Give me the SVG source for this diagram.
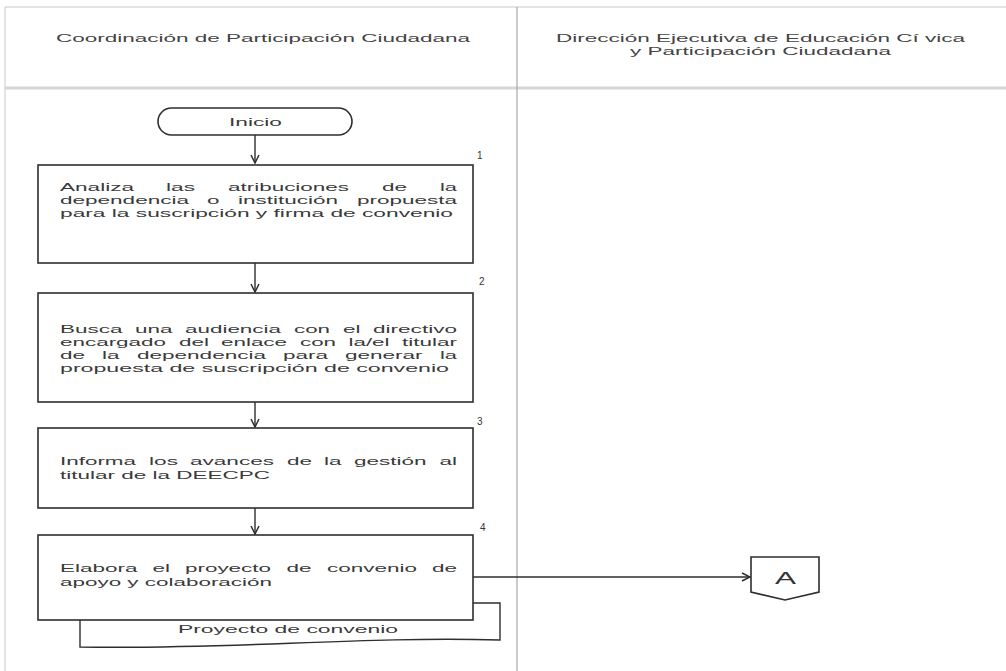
<svg xmlns="http://www.w3.org/2000/svg" width="1006" height="671" viewBox="0 0 1006 671">
<style>
.lane{fill:none;stroke:#c8c8c8;stroke-width:1}
.div{fill:none;stroke:#a8a8a8;stroke-width:1.2}
.hb{fill:none;stroke:#d6d6d6;stroke-width:3}
.box{fill:#fff;stroke:#2e2e2e;stroke-width:1.6}
.ln{fill:none;stroke:#2e2e2e;stroke-width:1.4}
text{font-family:"Liberation Sans",Arial,sans-serif;fill:#3a3a3a}
.h{font-size:11px;fill:#444}
.t{font-size:11.5px}
.n{font-size:10px;fill:#333}
.a{font-size:17px;fill:#333}
</style>
<defs>
<marker id="arr" viewBox="0 0 10 10" refX="9" refY="5" markerWidth="10" markerHeight="10" markerUnits="userSpaceOnUse" orient="auto">
<path d="M1,1 L9,5 L1,9" fill="none" stroke="#2e2e2e" stroke-width="1.5"/>
</marker>
</defs>
<rect x="0" y="0" width="1006" height="671" fill="#fff"/>
<g id="lanes">
<line class="lane" x1="5" y1="7" x2="1006" y2="7"/>
<line class="lane" x1="5" y1="7" x2="5" y2="671"/>
<line class="hb" x1="5" y1="88" x2="1006" y2="88"/>
<line class="div" x1="517" y1="7" x2="517" y2="671"/>
<text class="h" x="56" y="42" textLength="414" lengthAdjust="spacingAndGlyphs">Coordinación de Participación Ciudadana</text>
<text class="h" x="556" y="42" textLength="409" lengthAdjust="spacingAndGlyphs">Dirección Ejecutiva de Educación Cí vica</text>
<text class="h" x="630" y="55" textLength="261" lengthAdjust="spacingAndGlyphs">y Participación Ciudadana</text>
</g>
<g id="connectors">
<line class="ln" x1="255" y1="135" x2="255" y2="163" marker-end="url(#arr)"/>
<line class="ln" x1="255" y1="263" x2="255" y2="292" marker-end="url(#arr)"/>
<line class="ln" x1="255" y1="402" x2="255" y2="427" marker-end="url(#arr)"/>
<line class="ln" x1="255" y1="508" x2="255" y2="534" marker-end="url(#arr)"/>
<line class="ln" x1="473" y1="577" x2="750" y2="577" marker-end="url(#arr)"/>
</g>
<g id="inicio">
<rect class="box" x="158" y="108" width="194" height="27" rx="13.5" ry="13.5"/>
<text class="t" x="229" y="126" textLength="53" lengthAdjust="spacingAndGlyphs">Inicio</text>
</g>
<g id="paso1">
<rect class="box" x="38" y="165" width="435" height="98"/>
<text class="n" x="477" y="159">1</text>
<text class="t" x="60" y="191" textLength="74" lengthAdjust="spacingAndGlyphs">Analiza</text>
<text class="t" x="166" y="191" textLength="29" lengthAdjust="spacingAndGlyphs">las</text>
<text class="t" x="228" y="191" textLength="121" lengthAdjust="spacingAndGlyphs">atribuciones</text>
<text class="t" x="382" y="191" textLength="25" lengthAdjust="spacingAndGlyphs">de</text>
<text class="t" x="440" y="191" textLength="17" lengthAdjust="spacingAndGlyphs">la</text>
<text class="t" x="60" y="204" textLength="129" lengthAdjust="spacingAndGlyphs">dependencia</text>
<text class="t" x="207" y="204" textLength="12.5" lengthAdjust="spacingAndGlyphs">o</text>
<text class="t" x="238" y="204" textLength="100" lengthAdjust="spacingAndGlyphs">institución</text>
<text class="t" x="357" y="204" textLength="100" lengthAdjust="spacingAndGlyphs">propuesta</text>
<text class="t" x="60" y="217" textLength="393" lengthAdjust="spacingAndGlyphs">para la suscripción y firma de convenio</text>
</g>
<g id="paso2">
<rect class="box" x="38" y="293" width="435" height="109"/>
<text class="n" x="479" y="285">2</text>
<text class="t" x="60" y="333" textLength="62.5" lengthAdjust="spacingAndGlyphs">Busca</text>
<text class="t" x="135" y="333" textLength="37.5" lengthAdjust="spacingAndGlyphs">una</text>
<text class="t" x="185" y="333" textLength="96" lengthAdjust="spacingAndGlyphs">audiencia</text>
<text class="t" x="294" y="333" textLength="36" lengthAdjust="spacingAndGlyphs">con</text>
<text class="t" x="343" y="333" textLength="17.5" lengthAdjust="spacingAndGlyphs">el</text>
<text class="t" x="373" y="333" textLength="84" lengthAdjust="spacingAndGlyphs">directivo</text>
<text class="t" x="60" y="346" textLength="106" lengthAdjust="spacingAndGlyphs">encargado</text>
<text class="t" x="179" y="346" textLength="30" lengthAdjust="spacingAndGlyphs">del</text>
<text class="t" x="221" y="346" textLength="66" lengthAdjust="spacingAndGlyphs">enlace</text>
<text class="t" x="300" y="346" textLength="36" lengthAdjust="spacingAndGlyphs">con</text>
<text class="t" x="348.5" y="346" textLength="41" lengthAdjust="spacingAndGlyphs">la/el</text>
<text class="t" x="402" y="346" textLength="55" lengthAdjust="spacingAndGlyphs">titular</text>
<text class="t" x="60" y="359" textLength="25" lengthAdjust="spacingAndGlyphs">de</text>
<text class="t" x="102" y="359" textLength="17.5" lengthAdjust="spacingAndGlyphs">la</text>
<text class="t" x="137" y="359" textLength="129" lengthAdjust="spacingAndGlyphs">dependencia</text>
<text class="t" x="283" y="359" textLength="45" lengthAdjust="spacingAndGlyphs">para</text>
<text class="t" x="345" y="359" textLength="77.5" lengthAdjust="spacingAndGlyphs">generar</text>
<text class="t" x="440" y="359" textLength="17" lengthAdjust="spacingAndGlyphs">la</text>
<text class="t" x="60" y="372" textLength="389" lengthAdjust="spacingAndGlyphs">propuesta de suscripción de convenio</text>
</g>
<g id="paso3">
<rect class="box" x="38" y="428" width="435" height="80"/>
<text class="n" x="477" y="425">3</text>
<text class="t" x="60" y="465" textLength="76" lengthAdjust="spacingAndGlyphs">Informa</text>
<text class="t" x="149" y="465" textLength="29" lengthAdjust="spacingAndGlyphs">los</text>
<text class="t" x="190" y="465" textLength="84" lengthAdjust="spacingAndGlyphs">avances</text>
<text class="t" x="287" y="465" textLength="25" lengthAdjust="spacingAndGlyphs">de</text>
<text class="t" x="324" y="465" textLength="17.5" lengthAdjust="spacingAndGlyphs">la</text>
<text class="t" x="354" y="465" textLength="72.5" lengthAdjust="spacingAndGlyphs">gestión</text>
<text class="t" x="439.5" y="465" textLength="17.5" lengthAdjust="spacingAndGlyphs">al</text>
<text class="t" x="60" y="479" textLength="210" lengthAdjust="spacingAndGlyphs">titular de la DEECPC</text>
</g>
<g id="paso4">
<rect class="box" x="38" y="535" width="435" height="85"/>
<text class="n" x="480" y="531">4</text>
<text class="t" x="60" y="572" textLength="77.5" lengthAdjust="spacingAndGlyphs">Elabora</text>
<text class="t" x="152.5" y="572" textLength="17.5" lengthAdjust="spacingAndGlyphs">el</text>
<text class="t" x="185" y="572" textLength="86" lengthAdjust="spacingAndGlyphs">proyecto</text>
<text class="t" x="286.5" y="572" textLength="25" lengthAdjust="spacingAndGlyphs">de</text>
<text class="t" x="327" y="572" textLength="90" lengthAdjust="spacingAndGlyphs">convenio</text>
<text class="t" x="432" y="572" textLength="25" lengthAdjust="spacingAndGlyphs">de</text>
<text class="t" x="60" y="586" textLength="212" lengthAdjust="spacingAndGlyphs">apoyo y colaboración</text>
</g>
<g id="documento">
<path class="ln" d="M80,620 L80,647 C230,650 360,636 500,640 L500,603 L473,603"/>
<text class="t" x="178" y="633" textLength="220" lengthAdjust="spacingAndGlyphs">Proyecto de convenio</text>
</g>
<g id="conectorA">
<path class="box" d="M751,557 L819,557 L819,592 L785,600 L751,592 Z"/>
<text class="a" x="775" y="584" textLength="21" lengthAdjust="spacingAndGlyphs">A</text>
</g>
</svg>
